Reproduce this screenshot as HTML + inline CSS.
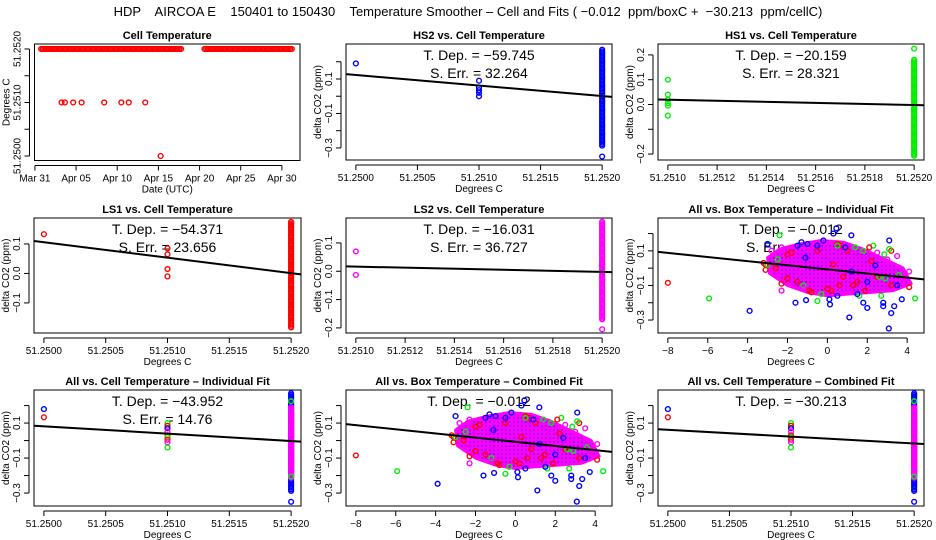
<!DOCTYPE html>
<html><head><meta charset="utf-8">
<style>
html,body{margin:0;padding:0;background:#fff;}
svg{display:block;font-family:"Liberation Sans",sans-serif;}
</style></head>
<body>
<svg id="c" width="936" height="540" viewBox="0 0 936 540" xmlns="http://www.w3.org/2000/svg">
<text x="468" y="16" text-anchor="middle" font-size="13" style="white-space:pre" xml:space="preserve">HDP    AIRCOA E    150401 to 150430    Temperature Smoother – Cell and Fits ( −0.012  ppm/boxC +  −30.213  ppm/cellC)</text>
</svg>
<script>
// ---------- DATA ----------
const cellRunStart = [0.75, 20.6];
const cellRunEnd = [17.9, 31.2];
const cellRunValue = [51.2520, 51.2520];
const cellDays = [3.24, 3.64, 4.65, 5.67, 8.42, 10.5, 11.4, 13.4, 15.27];
const cellVals = [51.2510, 51.2510, 51.2510, 51.2510, 51.2510, 51.2510, 51.2510, 51.2510, 51.2500];
const dateTicks = [0, 5, 10, 15, 20, 25, 30];
const dateLabels = ["Mar 31", "Apr 05", "Apr 10", "Apr 15", "Apr 20", "Apr 25", "Apr 30"];

const hs2X = [51.2500, 51.2510, 51.2510, 51.2510, 51.2510, 51.2510, 51.2520];
const hs2Y = [0.19, 0.09, 0.05, 0.035, 0.02, 0.0, -0.35];
const hs2Band = [0.27, -0.29];
const hs2Fit = [0.128, -0.004];
const hs1X = [51.2510, 51.2510, 51.2510, 51.2510, 51.2510, 51.2510, 51.2520];
const hs1Y = [0.10, 0.04, 0.02, 0.005, -0.005, -0.045, 0.225];
const hs1Band = [0.18, -0.21];
const hs1Fit = [0.02, -0.003];
const ls1X = [51.2500, 51.2510, 51.2510, 51.2510, 51.2510];
const ls1Y = [0.133, 0.085, 0.065, 0.015, -0.01];
const ls1Band = [0.175, -0.185];
const ls1Fit = [0.11, -0.003];
const ls2X = [51.2510, 51.2510, 51.2520];
const ls2Y = [0.07, -0.013, -0.205];
const ls2Band = [0.175, -0.17];
const ls2Fit = [0.017, -0.003];
const allCellX = [51.2500, 51.2500, 51.2510, 51.2510, 51.2510, 51.2510, 51.2510, 51.2510, 51.2510, 51.2510, 51.2510, 51.2520, 51.2520, 51.2520];
const allCellY = [0.18, 0.133, 0.10, 0.085, 0.07, 0.05, 0.03, 0.02, 0.005, -0.01, -0.04, 0.225, -0.205, -0.35];
const allCellC = ["b","r","g","r","b","m","r","g","r","m","g","g","g","b"];
const allBandColors = ["r", "b", "m"];
const allBandTop = [0.18, 0.27, 0.19];
const allBandBottom = [-0.18, -0.29, -0.22];
const indivCellFit = [0.085, -0.006];
const combCellFit = [0.065, -0.02];
const boxX = [-8.0,-5.93,-3.9,1.1,3.08,3.2,3.35,3.73,2.0,1.8,0.13,-1.07,-1.6,-0.5,2.8,2.8,4.4,3.1,1.2,-2.4,0.45,0.3,2.3,-3.0,-3.2,-3.1,-3.1,-3.0,-2.3,-2.3,-2.3,-0.9,4.1,4.1,3.5,3.2,2.1,3.1,2.85,2.3,2.4,
 0,0.2,0.5,0.7,1.0,-0.5,1.5,2.5,-1.5,-2.0,-1.8,3.2,1.3,0.8,
 -0.3,1.6,2.7,-1.2,1.8,2.6,0.5,-2.5,
 -1.0,-1.5,0.5,0.1,1.5,3.5,2.0,-0.5,
 -2.5,-2.8,-1.2,3.0,2.5,3.8,
 -1.3,-0.8,0.9,1.9,2.9,-2.0,-1.1,0.3,1.2,2.2,3.6,-2.6,0.6,-0.2,1.4];
const boxY = [-0.085,-0.175,-0.247,-0.285,-0.349,-0.26,-0.22,-0.18,-0.23,-0.2,-0.21,-0.185,-0.2,-0.19,-0.2,-0.22,-0.175,0.16,0.19,0.19,0.23,0.2,0.13,0.14,0.03,-0.01,0.02,0.02,-0.13,0.12,-0.09,-0.13,-0.11,-0.02,0.07,0.1,0.12,0.11,0.08,0.06,0.015,
 -0.12,-0.13,0.14,0.13,0.1,0.1,-0.08,-0.05,-0.08,0.08,0.09,-0.1,-0.1,-0.05,
 -0.15,-0.16,-0.16,-0.1,0.1,-0.05,0.13,0.05,
 0.14,0.13,-0.16,-0.18,-0.15,-0.1,-0.08,0.13,
 -0.05,0.1,-0.12,0.05,0.09,-0.07,
 0.15,-0.14,0.12,-0.13,-0.06,-0.06,0.06,0.02,-0.02,0.04,-0.04,0.0,-0.1,0.16,0.12];
const boxC = ["r","g","b","b","b","b","b","b","b","b","b","b","b","g","b","b","g","b","b","g","b","b","g","b","r","r","r","g","m","m","r","r","r","m","m","r","r","g","g","m","b",
 "r","r","r","r","r","r","r","r","r","r","r","r","r","r",
 "g","g","g","g","g","g","g","g",
 "b","b","b","b","b","b","b","b",
 "m","m","m","m","m","m",
 "b","r","b","r","g","r","b","r","b","r","g","r","r","b","g"];
const cloudX = [-3.0,-2.4,-1.4,-0.3,0.8,1.8,2.9,3.8,4.2,3.3,2.2,1.0,0,-1.0,-2.0,-2.9];
const cloudY = [0.06,0.11,0.14,0.16,0.15,0.11,0.05,0.0,-0.09,-0.13,-0.14,-0.15,-0.16,-0.14,-0.1,-0.03];
const boxFit = [0.094, -0.065];

// ---------- RENDER ----------
const NS = "http://www.w3.org/2000/svg";
const svg = document.getElementById("c");
const COL = {r:"#ff0000", g:"#00ee00", b:"#0000ff", m:"#ff00ff"};
function mk(tag, attrs, parent){
  const e = document.createElementNS(NS, tag);
  for (const k in attrs) e.setAttribute(k, attrs[k]);
  (parent||svg).appendChild(e);
  return e;
}
function fmt(v, d){ const s = Math.abs(v).toFixed(d); return (v < -1e-12 ? "−" : "") + s; }

// pattern for dense cloud
const defs = mk("defs", {});
const pat = mk("pattern", {id:"cloudpat", width:4, height:4, patternUnits:"userSpaceOnUse"}, defs);
mk("rect", {x:0, y:0, width:4, height:4, fill:"#ff00ff"}, pat);
mk("circle", {cx:2, cy:2, r:1, fill:"#8000ff"}, pat);

function makePanel(cfg){
  const g = mk("g", {});
  
  
  const b = cfg.box;
  const sx = v => b.x0 + (v - cfg.xd[0]) / (cfg.xd[1] - cfg.xd[0]) * (b.x1 - b.x0);
  const sy = v => b.y1 - (v - cfg.yd[0]) / (cfg.yd[1] - cfg.yd[0]) * (b.y1 - b.y0);
  const frame = mk("rect", {x:b.x0, y:b.y0, width:b.x1-b.x0, height:b.y1-b.y0, fill:"none", stroke:"#000", "stroke-width":1}, g);
  
  
  const t = mk("text", {x:(b.x0+b.x1)/2, y:b.y0-5, "text-anchor":"middle", "font-size":11, "font-weight":"bold"}, g);
  t.textContent = cfg.title;
  
  
  const xa = mk("g", {}, g);
  
  
  const xt0 = sx(cfg.xTicks[0]), xt1 = sx(cfg.xTicks[cfg.xTicks.length-1]);
  mk("line", {x1:xt0, x2:xt1, y1:b.y1+5, y2:b.y1+5, stroke:"#000"}, xa);
  cfg.xTicks.forEach((v,i) => {
    mk("line", {x1:sx(v), x2:sx(v), y1:b.y1+5, y2:b.y1+10, stroke:"#000"}, xa);
    const tl = mk("text", {x:sx(v), y:b.y1+21, "text-anchor":"middle", "font-size":10}, xa);
    tl.textContent = cfg.xLabels[i];
    
    
  });
  const xl = mk("text", {x:(b.x0+b.x1)/2, y:b.y1+32, "text-anchor":"middle", "font-size":10}, g);
  xl.textContent = cfg.xTitle;
  
  
  const ya = mk("g", {}, g);
  
  
  const yT = cfg.yTicks;
  mk("line", {x1:b.x0-5, x2:b.x0-5, y1:sy(yT[0]), y2:sy(yT[yT.length-1]), stroke:"#000"}, ya);
  yT.forEach(v => mk("line", {x1:b.x0-10, x2:b.x0-5, y1:sy(v), y2:sy(v), stroke:"#000"}, ya));
  cfg.yLabelVals.forEach((v,i) => {
    const x = b.x0-14, y = sy(v);
    const tl = mk("text", {x:x, y:y, "text-anchor":"middle", "font-size":10, transform:`rotate(-90 ${x} ${y})`}, ya);
    tl.textContent = cfg.yLabels[i];
    
    
  });
  const yx = b.x0-25, yy = (b.y0+b.y1)/2;
  const yl = mk("text", {x:yx, y:yy, "text-anchor":"middle", "font-size":10, transform:`rotate(-90 ${yx} ${yy})`}, g);
  yl.textContent = cfg.yTitle;
  
  
  (cfg.notes||[]).forEach((s,i) => {
    const n = mk("text", {x:(b.x0+b.x1)/2, y:b.y0+16+i*18, "text-anchor":"middle", "font-size":14}, g);
    n.textContent = s;
    
    
  });
  const clip = "clip-" + cfg.name;
  const cp = mk("clipPath", {id:clip}, g);
  mk("rect", {x:b.x0, y:b.y0, width:b.x1-b.x0, height:b.y1-b.y0}, cp);
  const pg = mk("g", {"clip-path":`url(#${clip})`}, g);
  
  
  return {g, pg, sx, sy, b};
}
function pt(P, x, y, c){
  const e = mk("circle", {cx:P.sx(x), cy:P.sy(y), r:2.4, fill:"none", stroke:COL[c], "stroke-width":1.4}, P.pg);
  
  
}
function band(P, x, top, bot, c){
  const y0 = P.sy(top), y1 = P.sy(bot);
  for (let y = y0; y <= y1; y += 1.6){
    const e = mk("circle", {cx:P.sx(x), cy:y, r:2.4, fill:"none", stroke:COL[c], "stroke-width":1.4}, P.pg);
    
    
  }
}
function fit(P, xs, ys){
  const pts = xs.map((x,i)=>P.sx(x)+","+P.sy(ys[i])).join(" ");
  const l = mk("polyline", {points:pts, fill:"none", stroke:"#000", "stroke-width":2}, P.pg);
  
  
}

const COLS = [{x0:34,x1:301},{x0:346,x1:612},{x0:658,x1:924}];
const ROWS = [{y0:44,y1:160},{y0:218,y1:333},{y0:390,y1:506}];
function box(c,r){ return {x0:COLS[c].x0, x1:COLS[c].x1, y0:ROWS[r].y0, y1:ROWS[r].y1}; }
const cellXD = [51.24992, 51.25208], cellXT = [51.25,51.2505,51.251,51.2515,51.252];
const cellXL = cellXT.map(v=>v.toFixed(4));
const narXD = [51.25096, 51.25204], narXT = [51.251,51.2512,51.2514,51.2516,51.2518,51.252];
const narXL = narXT.map(v=>v.toFixed(4));
const boxXD = [-8.494, 4.844], boxXT = [-8,-6,-4,-2,0,2,4];
const boxXL = boxXT.map(v=>fmt(v,0));
const YT = "delta CO2 (ppm)";
const std6 = [0.2,0.1,0,-0.1,-0.2,-0.3];

{
  const P = makePanel({name:"cell-temperature-panel", box:{x0:34.5,x1:300,y0:44,y1:160.5}, xd:[-0.05,32.2], yd:[51.249916,51.252093],
    title:"Cell Temperature", xTicks:dateTicks, xLabels:dateLabels, xTitle:"Date (UTC)",
    yTicks:[51.25,51.2505,51.251,51.2515,51.252], yLabelVals:[51.25,51.251,51.252], yLabels:["51.2500","51.2510","51.2520"], yTitle:"Degrees C"});
  cellRunStart.forEach((s,i)=>{ for(let d=s; d<=cellRunEnd[i]+1e-9; d+=0.2) pt(P,d,cellRunValue[i],"r"); });
  cellDays.forEach((d,i)=>pt(P,d,cellVals[i],"r"));
}
{
  const P = makePanel({name:"hs2-panel", box:box(1,0), xd:cellXD, yd:[-0.37,0.303], title:"HS2 vs. Cell Temperature",
    xTicks:cellXT, xLabels:cellXL, xTitle:"Degrees C", yTicks:std6, yLabelVals:[0.1,-0.1,-0.3], yLabels:["0.1","−0.1","−0.3"], yTitle:YT,
    notes:["T. Dep. =  −59.745","S. Err. =  32.264"]});
  band(P,51.252,hs2Band[0],hs2Band[1],"b");
  hs2X.forEach((x,i)=>pt(P,x,hs2Y[i],"b"));
  fit(P,cellXD,hs2Fit);
}
{
  const P = makePanel({name:"hs1-panel", box:box(2,0), xd:narXD, yd:[-0.224,0.244], title:"HS1 vs. Cell Temperature",
    xTicks:narXT, xLabels:narXL, xTitle:"Degrees C", yTicks:[0.2,0.1,0,-0.1,-0.2], yLabelVals:[0.2,0.1,0,-0.2], yLabels:["0.2","0.1","0.0","−0.2"], yTitle:YT,
    notes:["T. Dep. =  −20.159","S. Err. =  28.321"]});
  band(P,51.252,hs1Band[0],hs1Band[1],"g");
  hs1X.forEach((x,i)=>pt(P,x,hs1Y[i],"g"));
  fit(P,narXD,hs1Fit);
}
{
  const P = makePanel({name:"ls1-panel", box:box(0,1), xd:cellXD, yd:[-0.202,0.188], title:"LS1 vs. Cell Temperature",
    xTicks:cellXT, xLabels:cellXL, xTitle:"Degrees C", yTicks:[0.1,0,-0.1], yLabelVals:[0.1,0,-0.1], yLabels:["0.1","0.0","−0.1"], yTitle:YT,
    notes:["T. Dep. =  −54.371","S. Err. =  23.656"]});
  band(P,51.252,ls1Band[0],ls1Band[1],"r");
  ls1X.forEach((x,i)=>pt(P,x,ls1Y[i],"r"));
  fit(P,cellXD,ls1Fit);
}
{
  const P = makePanel({name:"ls2-panel", box:box(1,1), xd:narXD, yd:[-0.218,0.188], title:"LS2 vs. Cell Temperature",
    xTicks:narXT, xLabels:narXL, xTitle:"Degrees C", yTicks:[0.1,0,-0.1,-0.2], yLabelVals:[0.1,0,-0.1,-0.2], yLabels:["0.1","0.0","−0.1","−0.2"], yTitle:YT,
    notes:["T. Dep. =  −16.031","S. Err. =  36.727"]});
  band(P,51.252,ls2Band[0],ls2Band[1],"m");
  ls2X.forEach((x,i)=>pt(P,x,ls2Y[i],"m"));
  fit(P,narXD,ls2Fit);
}
function boxPanel(name, c, r, title, notes, yd){
  const P = makePanel({name, box:box(c,r), xd:boxXD, yd, title, xTicks:boxXT, xLabels:boxXL, xTitle:"Degrees C",
    yTicks:std6, yLabelVals:[0.1,-0.1,-0.3], yLabels:["0.1","−0.1","−0.3"], yTitle:YT, notes});
  const d = cloudX.map((x,i)=>P.sx(x)+","+P.sy(cloudY[i])).join(" ");
  const cl = mk("polygon", {points:d, fill:"url(#cloudpat)", stroke:"#ff00ff", "stroke-width":3, "stroke-linejoin":"round"}, P.pg);
  
  
  boxX.forEach((x,i)=>pt(P,x,boxY[i],boxC[i]));
  fit(P,boxXD,boxFit);
}
boxPanel("all-box-individual-panel",2,1,"All vs. Box Temperature – Individual Fit",["T. Dep. =  −0.012","S. Err. =  0.001"],[-0.375,0.29]);
function cellAll(name,c,title,notes,fv){
  const P = makePanel({name, box:box(c,2), xd:cellXD, yd:[-0.374,0.289], title, xTicks:cellXT, xLabels:cellXL, xTitle:"Degrees C",
    yTicks:std6, yLabelVals:[0.1,-0.1,-0.3], yLabels:["0.1","−0.1","−0.3"], yTitle:YT, notes});
  allBandColors.forEach((col,i)=>band(P,51.252,allBandTop[i],allBandBottom[i],col));
  allCellX.forEach((x,i)=>pt(P,x,allCellY[i],allCellC[i]));
  fit(P,cellXD,fv);
}
cellAll("all-cell-individual-panel",0,"All vs. Cell Temperature – Individual Fit",["T. Dep. =  −43.952","S. Err. =  14.76"],indivCellFit);
boxPanel("all-box-combined-panel",1,2,"All vs. Box Temperature – Combined Fit",["T. Dep. =  −0.012"],[-0.374,0.289]);
cellAll("all-cell-combined-panel",2,"All vs. Cell Temperature – Combined Fit",["T. Dep. =  −30.213"],combCellFit);
</script>
</body></html>
